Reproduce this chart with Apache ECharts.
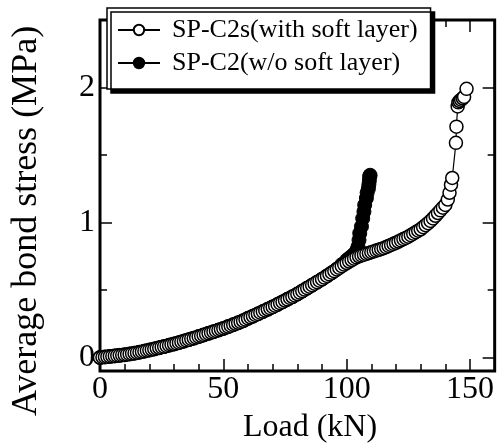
<!DOCTYPE html>
<html>
<head>
<meta charset="utf-8">
<script src="https://cdn.jsdelivr.net/npm/echarts@6/dist/echarts.min.js"></script>
<style>
html,body{margin:0;padding:0;background:#fff;}
#chart{width:497px;height:445px;}
</style>
</head>
<body>
<div id="chart"></div>
<script>
// ---- data ----
const nameSoft = 'SP-C2s(with soft layer)';
const nameNoSoft = 'SP-C2(w/o soft layer)';

const loadC2s = [0,1,2,3,4,5,6,7,8,9,10,11,12,13,14,15,16,17,18,19,20,21,22,23,24,25,26,27,28,29,
  30,31,32,33,34,35,36,37,38,39,40,41,42,43,44,45,46,47,48,49,50,51,52,53,54,55,56,57,58,59,
  60,61,62,63,64,65,66,67,68,69,70,71,72,73,74,75,76,77,78,79,80,81,82,83,84,85,86,87,88,89,
  90,91,92,93,94,95,96,97,98,99,100,101,102,103,104,105,106,107,108,109,110,111,112,113,114,115,116,117,118,119,
  120,121,122,123,124,125,126,127,128,129,130,131,132,133,134,135,136,137,138,139,140,
  141,141.7,142.3,142.8,144.3,144.5,145,145.3,145.8,146.4,147,147.6,148.6];
const stressC2s = [0.000,0.002,0.004,0.006,0.008,0.010,0.012,0.014,0.016,0.018,0.020,0.023,0.026,0.029,0.032,0.036,0.039,0.043,0.047,0.051,
  0.055,0.059,0.063,0.068,0.072,0.077,0.081,0.086,0.091,0.096,0.100,0.105,0.110,0.116,0.121,0.127,0.132,0.138,0.143,0.149,
  0.155,0.161,0.167,0.173,0.179,0.185,0.191,0.197,0.203,0.209,0.215,0.222,0.229,0.236,0.243,0.250,0.257,0.264,0.272,0.281,
  0.290,0.298,0.306,0.315,0.323,0.332,0.340,0.349,0.357,0.366,0.375,0.384,0.393,0.403,0.412,0.422,0.431,0.441,0.450,0.460,
  0.470,0.481,0.492,0.503,0.514,0.525,0.536,0.547,0.558,0.569,0.580,0.592,0.604,0.616,0.628,0.640,0.652,0.664,0.676,0.688,
  0.700,0.711,0.722,0.732,0.742,0.750,0.756,0.762,0.768,0.774,0.780,0.786,0.792,0.798,0.804,0.810,0.818,0.826,0.834,0.842,
  0.850,0.859,0.868,0.877,0.886,0.895,0.906,0.917,0.928,0.939,0.950,0.965,0.980,0.995,1.012,1.030,1.050,1.070,1.090,1.110,1.130,
  1.17,1.22,1.28,1.33,1.59,1.71,1.86,1.89,1.90,1.91,1.92,1.93,1.99];

const loadC2 = [0,2,4,6,8,10,12,14,16,18,20,22,24,26,28,30,32,34,36,38,40,42,44,46,48,50,52,54,56,58,
  60,62,64,66,68,70,72,74,76,78,80,82,84,86,88,90,92,94,96,98,100,101,102,103,104,104.6,105,105.3,106,106.5,
  107,107.3,108,108.3,108.8,109,109.2,109.3,109.5];
const stressC2 = [0.000,0.004,0.008,0.012,0.016,0.020,0.026,0.032,0.039,0.047,0.055,0.063,0.072,0.081,0.091,0.100,0.110,0.121,0.132,0.143,
  0.155,0.167,0.179,0.191,0.203,0.215,0.229,0.243,0.257,0.272,0.290,0.306,0.323,0.340,0.357,0.375,0.393,0.412,0.431,0.450,
  0.470,0.492,0.514,0.536,0.558,0.580,0.604,0.628,0.655,0.688,0.720,0.735,0.750,0.765,0.790,0.820,0.870,0.920,0.970,1.030,
  1.080,1.130,1.180,1.220,1.250,1.280,1.310,1.340,1.350];

const xMajorTicks = [0,50,100,150];
const xMinorTicks = [10,20,30,40,60,70,80,90,110,120,130,140];
const yMajorTicks = [0,1,2];
const yMinorTicks = [0.5,1.5];

// ---- chart ----
const FONT = 'Liberation Serif';
const pairs = (xs, ys) => xs.map((x, i) => [x, ys[i]]);

function xAx(pos, vals, len, labels) {
  return {
    type: 'value', position: pos, min: 0, max: 160,
    axisLine: {show: false, onZero: false},
    splitLine: {show: false},
    axisTick: {show: true, inside: true, length: len, customValues: vals, lineStyle: {color: '#000', width: 1.5}},
    axisLabel: {show: labels, customValues: vals, color: '#000', fontFamily: FONT, fontSize: 32, margin: 3}
  };
}
function yAx(pos, vals, len, labels) {
  return {
    type: 'value', position: pos, min: -0.1, max: 2.5,
    axisLine: {show: false, onZero: false},
    splitLine: {show: false},
    axisTick: {show: true, inside: true, length: len, customValues: vals, lineStyle: {color: '#000', width: 1.5}},
    axisLabel: {show: labels, customValues: vals, color: '#000', fontFamily: FONT, fontSize: 32, margin: 5}
  };
}

const chart = echarts.init(document.getElementById('chart'), null, {renderer: 'canvas'});
chart.setOption({
  animation: false,
  backgroundColor: '#fff',
  grid: {left: 100, right: 2, top: 20, bottom: 74, show: true, borderColor: '#000', borderWidth: 3, backgroundColor: 'transparent'},
  xAxis: [
    xAx('bottom', xMajorTicks, 12, true),
    xAx('bottom', xMinorTicks, 7, false),
    xAx('top', xMajorTicks, 12, false),
    xAx('top', xMinorTicks, 7, false)
  ],
  yAxis: [
    yAx('left', yMajorTicks, 12, true),
    yAx('left', yMinorTicks, 7, false),
    yAx('right', yMajorTicks, 12, false),
    yAx('right', yMinorTicks, 7, false)
  ],
  legend: {
    data: [nameSoft, nameNoSoft],
    orient: 'vertical',
    left: 107, top: 8,
    padding: [9, 13, 13, 10],
    itemGap: 7,
    itemWidth: 42, itemHeight: 13,
    backgroundColor: '#fff',
    borderColor: '#000', borderWidth: 1.5,
    shadowColor: '#000', shadowBlur: 0, shadowOffsetX: 4, shadowOffsetY: 4,
    textStyle: {color: '#000', fontFamily: FONT, fontSize: 26, padding: [0, 0, 0, 7]}
  },
  graphic: [
    {type: 'text', x: 310, y: 428, style: {text: 'Load (kN)', fontFamily: FONT, fontSize: 32, fill: '#000', align: 'center', verticalAlign: 'middle'}},
    {type: 'text', x: 27, y: 221, rotation: Math.PI / 2, style: {text: 'Average bond stress (MPa)', fontFamily: FONT, fontSize: 36, fill: '#000', align: 'center', verticalAlign: 'middle'}}
  ],
  series: [
    {
      name: nameNoSoft, type: 'line', xAxisIndex: 0, yAxisIndex: 0,
      data: pairs(loadC2, stressC2),
      symbol: 'circle', symbolSize: 14,
      itemStyle: {color: '#000', borderColor: '#000', borderWidth: 1},
      lineStyle: {color: '#000', width: 1.2}
    },
    {
      name: nameSoft, type: 'line', xAxisIndex: 0, yAxisIndex: 0,
      data: pairs(loadC2s, stressC2s),
      symbol: 'circle', symbolSize: 13,
      itemStyle: {color: '#fff', borderColor: '#000', borderWidth: 1.5},
      lineStyle: {color: '#000', width: 1.2}
    }
  ]
});
</script>
</body>
</html>
